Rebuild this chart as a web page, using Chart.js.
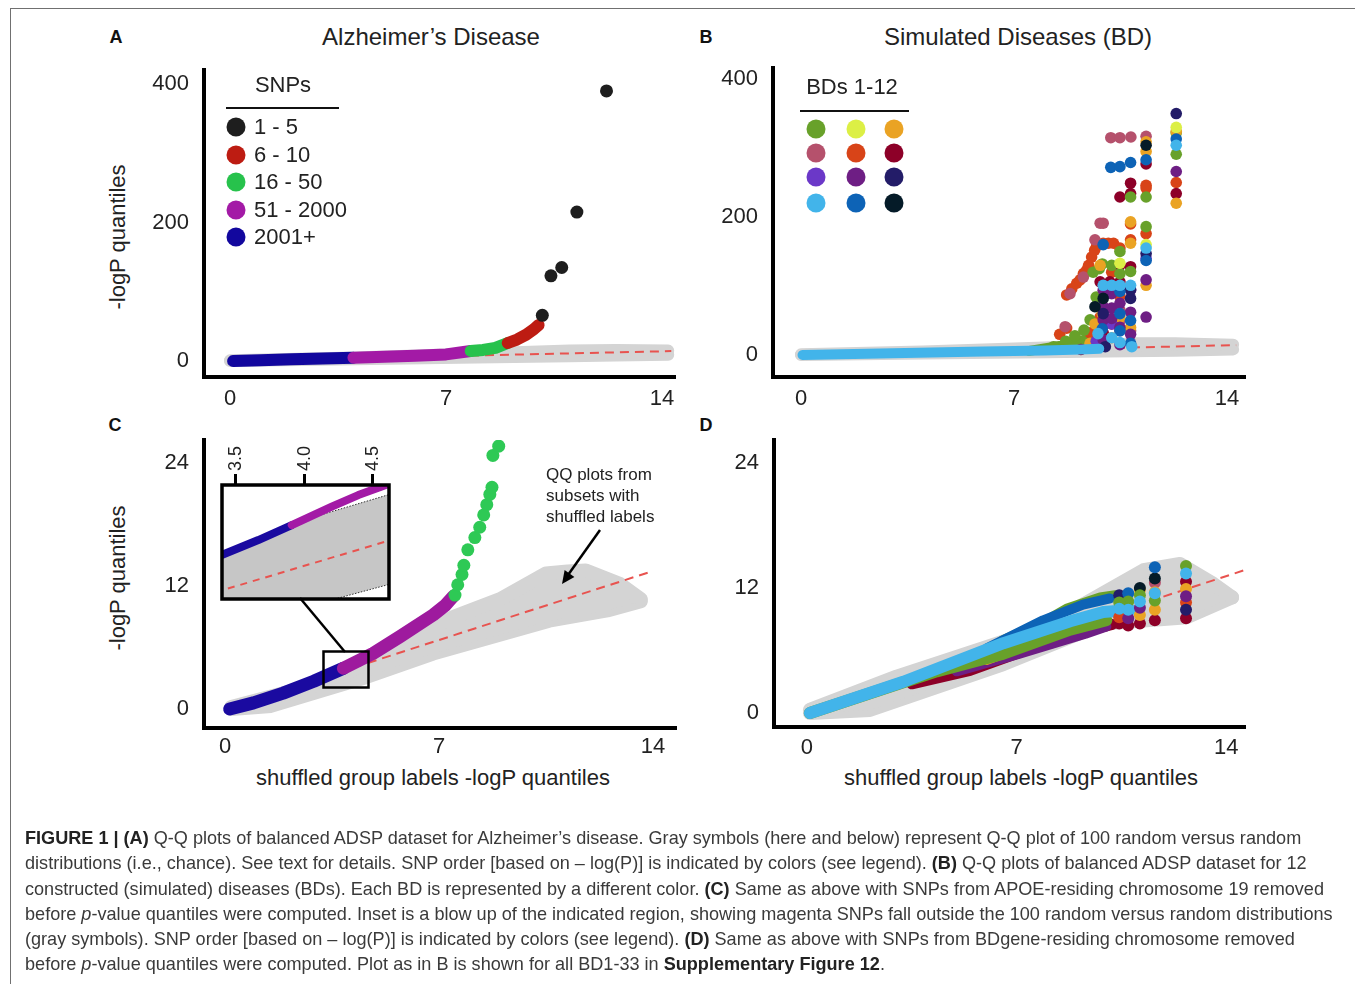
<!DOCTYPE html>
<html lang="en">
<head>
<meta charset="UTF-8" />
<title>Figure 1 | Q-Q plots</title>
<script src="https://cdn.jsdelivr.net/npm/chart.js"></script>
<style>
  body { margin: 0; width: 1355px; height: 984px; position: relative; overflow: hidden; background: #fff;
         font-family: "Liberation Sans", Arial, sans-serif; color: #222; }
  .frame { position: absolute; left: 10px; top: 8px; width: 1360px; height: 990px;
           border-top: 1.5px solid #707070; border-left: 1.5px solid #707070; }
  canvas { position: absolute; }
  .t { position: absolute; transform: translate(-50%, -50%); white-space: nowrap; }
  .l { position: absolute; transform: translateY(-50%); white-space: nowrap; }
  .letter { font-weight: bold; font-size: 18px; color: #111; }
  .title { font-size: 24px; }
  .axis { font-size: 22px; }
  .rot { transform: translate(-50%, -50%) rotate(-90deg); }
  .leg { font-size: 22px; }
  .dot { position: absolute; width: 19px; height: 19px; border-radius: 50%; transform: translate(-50%, -50%); }
  .rule { position: absolute; height: 2px; background: #111; }
  .note { font-size: 17px; }
  .caption { position: absolute; left: 25px; top: 826px; font-size: 18.1px; line-height: 25.3px;
             color: #3a3a3a; white-space: nowrap; }
  .caption b { color: #222; }
</style>
</head>
<body>
<div class="frame"></div>

<!-- panel headings -->
<div class="t letter" style="left:116px;top:37px">A</div>
<div class="t title" style="left:431px;top:37px">Alzheimer’s Disease</div>
<div class="t letter" style="left:706px;top:37px">B</div>
<div class="t title" style="left:1018px;top:37px">Simulated Diseases (BD)</div>
<div class="t letter" style="left:115px;top:425px">C</div>
<div class="t letter" style="left:706px;top:425px">D</div>

<div class="t axis rot" style="left:118px;top:237px">-logP quantiles</div>
<div class="t axis rot" style="left:118px;top:578px">-logP quantiles</div>
<div class="t axis" style="left:433px;top:778px">shuffled group labels -logP quantiles</div>
<div class="t axis" style="left:1021px;top:778px">shuffled group labels -logP quantiles</div>

<canvas id="chartA" width="560" height="390" style="left:130px;top:30px"></canvas>
<canvas id="chartB" width="560" height="392" style="left:700px;top:28px"></canvas>
<canvas id="chartC" width="560" height="365" style="left:130px;top:400px"></canvas>
<canvas id="chartD" width="560" height="365" style="left:700px;top:400px"></canvas>
<canvas id="chartInset" width="200" height="175" style="left:202px;top:430px"></canvas>

<!-- legend A -->
<div class="t leg" style="left:283px;top:85px">SNPs</div>
<div class="rule" style="left:226px;top:107px;width:113px"></div>
<div id="legendA"></div>

<!-- legend B -->
<div class="t leg" style="left:852px;top:87px">BDs 1-12</div>
<div class="rule" style="left:800px;top:110px;width:109px"></div>
<div id="legendB"></div>

<!-- annotation in C -->
<div class="l note" style="left:546px;top:475px">QQ plots from</div>
<div class="l note" style="left:546px;top:496px">subsets with</div>
<div class="l note" style="left:546px;top:517px">shuffled labels</div>

<svg width="1355" height="984" style="position:absolute;left:0;top:0;pointer-events:none">
  <line x1="300" y1="598" x2="345" y2="652" stroke="#000" stroke-width="2.5"/>
  <rect x="323.5" y="651.5" width="45" height="36" fill="none" stroke="#000" stroke-width="2.5"/>
  <line x1="600" y1="530" x2="568" y2="575" stroke="#000" stroke-width="2.5"/>
  <polygon points="562,584 574.4,576.9 564.6,569.9" fill="#000"/>
</svg>

<div class="caption">
<b>FIGURE 1 | (A)</b> Q-Q plots of balanced ADSP dataset for Alzheimer’s disease. Gray symbols (here and below) represent Q-Q plot of 100 random versus random<br>
distributions (i.e., chance). See text for details. SNP order [based on – log(P)] is indicated by colors (see legend). <b>(B)</b> Q-Q plots of balanced ADSP dataset for 12<br>
constructed (simulated) diseases (BDs). Each BD is represented by a different color. <b>(C)</b> Same as above with SNPs from APOE-residing chromosome 19 removed<br>
before <i>p</i>-value quantiles were computed. Inset is a blow up of the indicated region, showing magenta SNPs fall outside the 100 random versus random distributions<br>
(gray symbols). SNP order [based on – log(P)] is indicated by colors (see legend). <b>(D)</b> Same as above with SNPs from BDgene-residing chromosome removed<br>
before <i>p</i>-value quantiles were computed. Plot as in B is shown for all BD1-33 in <b>Supplementary Figure 12</b>.
</div>

<script>
// ---------- data ----------
// tick labels
const xTicks = [0, 7, 14];
const yTicksTop = [0, 200, 400];
const yTicksBottom = [0, 12, 24];
const insetTicks = [3.5, 4.0, 4.5];

// legend A
const snpLabels = ["1 - 5", "6 - 10", "16 - 50", "51 - 2000", "2001+"];
const snpColors = ["#1e1e1e", "#bd1c12", "#27c24c", "#a31aa6", "#12079e"];

// legend B (3 columns x 4 rows)
const bdColors = ["#68a12a", "#dcef45", "#eaa324",
                  "#b5516c", "#d84418", "#8d0028",
                  "#6b38c8", "#6e1e84", "#231c68",
                  "#42b4ea", "#0d63b6", "#051b28"];

// panel A: [shuffled -logP, -logP]
const aBlue = [[0.1, 0], [1, 1.2], [2, 2.4], [3, 3.6], [4.0, 4.8]];
const aMagenta = [[4.0, 4.8], [5, 6], [6, 7.5], [7, 9.5], [7.8, 14.5]];
const aGreen = [[7.8, 14.5], [8.2, 16], [8.6, 19], [9.0, 26]];
const aRed = [[9.0, 26], [9.3, 31], [9.6, 38], [9.85, 46], [10.0, 52]];
const aBlack = [[10.12, 66], [10.4, 123], [10.75, 135], [11.24, 215], [12.2, 390]];
const aGrayTop = [[0, 1], [4, 5], [8, 11], [11, 15], [12.5, 16], [14.2, 15]];
const aGrayBottom = [[0, 0], [4, 2.5], [8, 5], [11, 7], [12.5, 8], [14.2, 9]];
const aDiag = [[0, 0], [14.3, 14.3]];

// panel B: one list per simulated disease
const bLightBlueLine = [[0.05, 0], [3, 2.5], [6, 5], [8, 6.5], [9.2, 8], [9.8, 9]];
const bGreenWedge = [[7.5, 6], [8.5, 13], [9.3, 22], [9.8, 28]];
const bGreen = [[8.3, 12], [8.7, 20], [9.0, 28], [9.3, 36], [9.5, 51], [9.7, 84], [9.6, 120], [9.8, 125],
                [9.9, 132], [10.48, 150], [10.83, 121], [10.83, 229], [11.34, 229], [11.34, 186], [12.33, 291],
                [12.33, 322], [10.21, 130], [10.48, 118]];
const bLime = [[10.48, 133], [11.34, 160], [12.33, 330]];
const bOrange = [[9.5, 17], [9.83, 130], [9.9, 60], [10.48, 55], [10.83, 193], [10.83, 162], [10.83, 40],
                 [11.34, 309], [11.34, 295], [11.34, 101], [12.33, 324], [12.33, 220], [10.21, 25], [9.66, 45]];
const bRose = [[8.68, 41], [8.84, 89], [9.28, 113], [9.66, 167], [9.83, 191], [9.93, 191], [10.18, 315],
               [10.48, 315], [10.84, 316], [11.34, 317], [10.48, 65], [10.48, 36], [10.48, 50], [10.83, 35]];
const bOrangeRed = [[8.5, 30], [8.73, 39], [8.73, 87], [8.9, 96], [9.06, 104], [9.17, 109], [9.28, 118], [9.39, 123],
                    [9.45, 130], [9.55, 142], [9.65, 152], [9.72, 159], [9.93, 162], [10.1, 162], [10.27, 162],
                    [10.48, 155], [10.83, 167], [10.83, 190], [11.34, 246], [11.34, 242], [11.34, 176], [12.33, 250],
                    [9.5, 32], [10.48, 85], [10.21, 120], [9.83, 55]];
const bDarkRed = [[9.2, 8], [9.6, 14], [9.93, 32], [9.83, 106], [10.15, 106], [10.48, 106], [10.48, 229],
                  [10.83, 249], [10.83, 234], [10.83, 128], [11.34, 277], [12.33, 234], [10.48, 130], [10.21, 45]];
const bPurple = [[9.7, 20], [10.21, 45], [11.34, 140]];
const bViolet = [[9.93, 22], [9.93, 51], [9.93, 70], [9.93, 94], [10.21, 53], [10.21, 68], [10.21, 89],
                 [10.48, 15], [10.83, 94], [11.34, 55], [11.34, 109], [12.33, 266], [10.48, 75], [10.83, 62],
                 [10.48, 40], [10.83, 30]];
const bNavy = [[10.0, 12], [10.83, 82], [11.34, 147], [12.33, 350], [10.83, 95], [9.93, 60]];
const bLightBlue = [[9.76, 31], [9.93, 101], [10.21, 101], [10.48, 101], [10.83, 101], [10.87, 12], [11.34, 155],
                    [12.33, 304], [10.48, 18], [10.21, 25]];
const bBlue = [[10.18, 272], [10.48, 273], [10.83, 279], [11.34, 283], [11.34, 137], [12.33, 313],
               [9.93, 160], [10.48, 60], [10.48, 35], [10.83, 17], [9.9, 38], [10.83, 50], [10.48, 92]];
const bBlack = [[9.66, 70], [9.93, 82], [11.34, 304]];
const bGrayTop = [[0, 1], [4, 5], [8, 11], [10, 15], [11, 17], [12.3, 17], [14.2, 15]];
const bGrayBottom = [[0, 0], [4, 2], [8, 4], [10, 5], [12.3, 6], [14.2, 8]];
const bDiag = [[0, 0], [14.3, 14.3]];

// panel C
const cBlue = [[0.15, 0], [0.93, 0.6], [1.9, 1.55], [2.9, 2.7], [3.87, 3.97]];
const cMagenta = [[3.87, 3.97], [4.85, 5.43], [5.72, 7.05], [6.81, 9.17], [7.2, 10.1], [7.46, 10.96]];
const cGreen = [[7.52, 11.1], [7.61, 12.1], [7.75, 13.1], [7.81, 14.0], [7.94, 15.5], [8.17, 16.7], [8.33, 17.7],
                [8.46, 18.9], [8.56, 19.9], [8.66, 20.9], [8.73, 21.6], [8.76, 24.7], [8.95, 25.6]];
const cGrayTop = [[0.2, 0.2], [2, 1.6], [4, 3.6], [5, 4.9], [6.15, 7.0], [7.5, 9.0], [9, 10.7], [10.5, 13.2],
                  [11.2, 13.4], [11.8, 13.5], [12.9, 12.2], [13.6, 10.7]];
const cGrayBottom = [[0.2, 0], [1.5, 0.3], [4.6, 3.1], [6.8, 5.4], [10.6, 8.6], [12.5, 9.6], [13.6, 10.5]];
const cDiag = [[0, 0], [13.85, 13.3]];

// inset of panel C
const inBlue = [[3.35, 4.02], [3.663, 4.41], [3.907, 4.74]];
const inMagenta = [[3.907, 4.74], [4.199, 5.15], [4.393, 5.41], [4.564, 5.60], [4.7, 5.75]];
const inGrayTop = [[3.35, 3.98], [3.907, 4.68], [4.076, 4.93], [4.65, 5.45]];
const inGrayBottom = [[3.35, 2.9], [4.1, 3.0], [4.6, 3.41], [4.65, 3.45]];
const inDiag = [[3.35, 3.25], [4.62, 4.4]];

// panel D
const dLightBlue = [[0.1, 0], [3.22, 3.0], [6.56, 6.7], [8.79, 8.8], [9.9, 9.7], [10.79, 9.9]];
const dGreenUpper = [[6.5, 6.9], [8.0, 8.9], [8.67, 10.0], [9.79, 11.1], [10.3, 11.3]];
const dGreenLower = [[0.1, 0], [4.33, 4.0], [6.56, 5.7], [8.79, 8.0], [10.0, 8.9]];
const dBlue = [[6.0, 6.2], [7.89, 8.9], [9.22, 10.4], [10.12, 11.0]];
const dDarkRed = [[3.5, 2.8], [5.45, 4.1], [7.67, 6.4], [9.9, 8.3], [10.2, 8.5]];
const dPurple = [[5.0, 4.0], [7.1, 5.7], [9.3, 7.6], [10.0, 8.3]];
const dOrange = [[6, 5], [8.5, 7.6], [9.55, 8.9]];
const dColGreen = [[12.66, 14.1], [11.62, 10.8], [11.12, 11.3], [10.73, 10.7], [10.43, 10.6]];
const dColLightBlue = [[12.66, 13.4], [11.62, 11.5], [11.12, 10.7], [10.73, 9.9], [10.43, 10.0]];
const dColDarkRed = [[12.66, 12.6], [12.66, 9.1], [11.62, 8.9], [11.12, 8.6], [10.73, 8.4], [10.43, 8.6]];
const dColOrange = [[12.66, 11.9], [11.62, 11.6], [11.62, 9.9], [11.12, 9.4], [11.12, 11.8]];
const dColViolet = [[12.66, 11.2], [11.12, 10.1], [10.73, 9.1]];
const dColOrangeRed = [[12.66, 10.6], [10.43, 9.2]];
const dColNavy = [[12.66, 9.9], [10.43, 11.3]];
const dColBlue = [[11.62, 14.0], [10.73, 11.5]];
const dColBlack = [[11.62, 12.9], [11.12, 12.0]];
const dColRose = [[11.62, 12.5]];
const dGrayTop = [[0.1, 0.3], [3, 3.5], [7.67, 7.9], [9.46, 10.8], [11.24, 13.7], [12.46, 14.3], [13.57, 12.4], [14.2, 11.1]];
const dGrayBottom = [[0.1, 0], [2.1, 0.3], [6.56, 4.7], [8.79, 7.3], [9.9, 8.6], [12.69, 9.2], [14.2, 11.1]];
const dDiag = [[0, 0], [14.6, 13.7]];

// ---------- helpers ----------
const FONT = "'Liberation Sans', Arial, sans-serif";
const GRAY = "#d4d4d4";
const RED_DASH = "#e8534f";
const pairs = a => a.map(p => ({ x: p[0], y: p[1] }));

function dots(arr, color, r) {
  return { type: "scatter", data: pairs(arr), backgroundColor: color, borderWidth: 0,
           pointRadius: r, pointHoverRadius: r, order: 1 };
}
function thick(arr, color, w) {
  return { type: "line", data: pairs(arr), borderColor: color, borderWidth: w, borderCapStyle: "round",
           borderJoinStyle: "round", pointRadius: 0, fill: false, tension: 0, order: 1 };
}
function diag(arr, dash) {
  return { type: "line", data: pairs(arr), borderColor: RED_DASH, borderWidth: 2, borderDash: dash || [9, 6],
           pointRadius: 0, fill: false, order: 2 };
}
function cloud(top, bottom, w) {
  return [
    { type: "line", data: pairs(top), borderColor: GRAY, backgroundColor: GRAY, borderWidth: w,
      borderJoinStyle: "round", borderCapStyle: "round", pointRadius: 0, fill: "+1", order: 3 },
    { type: "line", data: pairs(bottom), borderColor: GRAY, borderWidth: w,
      borderJoinStyle: "round", borderCapStyle: "round", pointRadius: 0, fill: false, order: 3 }
  ];
}

// chart area = layout padding top (40) .. canvas height - xH, left = yW
function panel(id, cfg) {
  return new Chart(document.getElementById(id), {
    type: "scatter",
    data: { datasets: cfg.datasets },
    options: {
      responsive: false, animation: false, devicePixelRatio: 1,
      layout: { padding: { left: 0, top: 40, right: cfg.padRight, bottom: 0 } },
      plugins: { legend: { display: false }, tooltip: { enabled: false } },
      scales: {
        x: {
          type: "linear", min: cfg.x[0], max: cfg.x[1],
          grid: { display: false, drawTicks: false },
          border: { display: true, width: 4, color: "#000" },
          ticks: { font: { family: FONT, size: 22 }, color: "#222", padding: cfg.xPad, maxRotation: 0 },
          afterBuildTicks: s => { s.ticks = xTicks.map(v => ({ value: v })); },
          afterFit: s => { s.height = cfg.xH; }
        },
        y: {
          type: "linear", min: cfg.y[0], max: cfg.y[1],
          grid: { display: false, drawTicks: false },
          border: { display: true, width: 4, color: "#000" },
          ticks: { font: { family: FONT, size: 22 }, color: "#222", padding: 15 },
          afterBuildTicks: s => { s.ticks = cfg.yTicks.map(v => ({ value: v })); },
          afterFit: s => { s.width = cfg.yW; }
        }
      }
    }
  });
}

// ---------- legends ----------
const legA = document.getElementById("legendA");
snpLabels.forEach((lab, i) => {
  const y = 127 + i * 27.5;
  legA.insertAdjacentHTML("beforeend",
    `<div class="dot" style="left:236px;top:${y}px;background:${snpColors[i]}"></div>` +
    `<div class="l leg" style="left:254px;top:${y}px">${lab}</div>`);
});
const legB = document.getElementById("legendB");
bdColors.forEach((c, i) => {
  const x = [816, 856, 894][i % 3];
  const y = [129, 153, 177, 203][Math.floor(i / 3)];
  legB.insertAdjacentHTML("beforeend", `<div class="dot" style="left:${x}px;top:${y}px;background:${c}"></div>`);
});

// ---------- panel A ----------
panel("chartA", {
  x: [-0.843, 14.42], y: [-23.1, 420.2], yTicks: yTicksTop,
  yW: 74, xH: 43, padRight: 15, xPad: 9,
  datasets: [
    dots(aBlack, snpColors[0], 6.5),
    thick(aRed, snpColors[1], 12),
    thick(aGreen, snpColors[2], 12),
    thick(aMagenta, snpColors[3], 12),
    thick(aBlue, snpColors[4], 12),
    diag(aDiag),
    ...cloud(aGrayTop, aGrayBottom, 12)
  ]
});

// ---------- panel B ----------
panel("chartB", {
  x: [-0.92, 14.59], y: [-31.9, 416], yTicks: yTicksTop,
  yW: 73, xH: 43, padRight: 15, xPad: 9,
  datasets: [
    thick(bLightBlueLine, bdColors[9], 10),
    dots(bLightBlue, bdColors[9], 5.8),
    dots(bBlue, bdColors[10], 5.8),
    dots(bBlack, bdColors[11], 5.8),
    dots(bNavy, bdColors[8], 5.8),
    dots(bViolet, bdColors[7], 5.8),
    dots(bPurple, bdColors[6], 5.8),
    dots(bLime, bdColors[1], 5.8),
    dots(bOrange, bdColors[2], 5.8),
    dots(bGreen, bdColors[0], 5.8),
    dots(bDarkRed, bdColors[5], 5.8),
    dots(bRose, bdColors[3], 5.8),
    dots(bOrangeRed, bdColors[4], 5.8),
    thick(bGreenWedge, bdColors[0], 10),
    diag(bDiag),
    ...cloud(bGrayTop, bGrayBottom, 12)
  ]
});

// ---------- panel C ----------
panel("chartC", {
  x: [-0.69, 14.75], y: [-1.85, 26.2], yTicks: yTicksBottom,
  yW: 74, xH: 37, padRight: 14, xPad: 6,
  datasets: [
    dots(cGreen, "#2ec955", 6.5),
    thick(cMagenta, "#9e1a9e", 13),
    thick(cBlue, "#1a0aa0", 13),
    diag(cDiag),
    ...cloud(cGrayTop, cGrayBottom, 14)
  ]
});

// ---------- panel D ----------
panel("chartD", {
  x: [-1.10, 14.63], y: [-1.34, 26.2], yTicks: yTicksBottom,
  yW: 74, xH: 38, padRight: 15, xPad: 8,
  datasets: [
    dots(dColLightBlue, bdColors[9], 6),
    dots(dColGreen, bdColors[0], 6),
    dots(dColBlue, bdColors[10], 6),
    dots(dColBlack, bdColors[11], 6),
    dots(dColNavy, bdColors[8], 6),
    dots(dColViolet, bdColors[7], 6),
    dots(dColOrange, bdColors[2], 6),
    dots(dColOrangeRed, bdColors[4], 6),
    dots(dColRose, bdColors[3], 6),
    dots(dColDarkRed, bdColors[5], 6),
    thick(dLightBlue, bdColors[9], 12),
    thick(dBlue, bdColors[10], 10),
    thick(dGreenUpper, bdColors[0], 10),
    thick(dGreenLower, bdColors[0], 12),
    thick(dOrange, bdColors[2], 8),
    thick(dPurple, bdColors[7], 10),
    thick(dDarkRed, bdColors[5], 11),
    diag(dDiag),
    ...cloud(dGrayTop, dGrayBottom, 14)
  ]
});

// ---------- inset ----------
const frameBox = {
  id: "frameBox",
  afterDatasetsDraw(chart) {
    const a = chart.chartArea, ctx = chart.ctx;
    ctx.save();
    ctx.lineWidth = 3.5;
    ctx.strokeStyle = "#000";
    ctx.strokeRect(a.left, a.top, a.right - a.left, a.bottom - a.top);
    ctx.restore();
  }
};
const insetEdge = (arr) => ({ type: "line", data: pairs(arr), borderColor: "#333", borderWidth: 1,
  borderDash: [1.5, 1.5], pointRadius: 0, fill: false, order: 2 });
new Chart(document.getElementById("chartInset"), {
  type: "scatter",
  data: {
    datasets: [
      thick(inMagenta, "#a31aa6", 8),
      thick(inBlue, "#1a0aa0", 8),
      diag(inDiag, [7, 6]),
      insetEdge(inGrayTop.slice(2)),
      insetEdge(inGrayBottom),
      { type: "line", data: pairs(inGrayTop), borderColor: "#c6c6c6", backgroundColor: "#c6c6c6", borderWidth: 0,
        pointRadius: 0, fill: "+1", order: 3 },
      { type: "line", data: pairs(inGrayBottom), borderColor: "#c6c6c6", borderWidth: 0, pointRadius: 0, fill: false, order: 3 }
    ]
  },
  options: {
    responsive: false, animation: false, devicePixelRatio: 1,
    layout: { padding: { left: 0, top: 0, right: 13, bottom: 6 } },
    plugins: { legend: { display: false }, tooltip: { enabled: false } },
    scales: {
      x: {
        type: "linear", position: "top", min: 3.398, max: 4.617,
        grid: { display: true, drawOnChartArea: false, drawTicks: true, tickLength: 11, lineWidth: 3, color: "#000" },
        border: { display: false },
        ticks: { font: { family: FONT, size: 18 }, color: "#222", padding: 3, minRotation: 90, maxRotation: 90,
                 labelOffset: 22, callback: v => v.toFixed(1) },
        afterBuildTicks: s => { s.ticks = insetTicks.map(v => ({ value: v })); },
        afterFit: s => { s.height = 55; }
      },
      y: {
        type: "linear", min: 3.1, max: 5.633,
        grid: { display: false, drawTicks: false },
        border: { display: false },
        ticks: { display: false },
        afterFit: s => { s.width = 20; }
      }
    }
  },
  plugins: [frameBox]
});
</script>
</body>
</html>
